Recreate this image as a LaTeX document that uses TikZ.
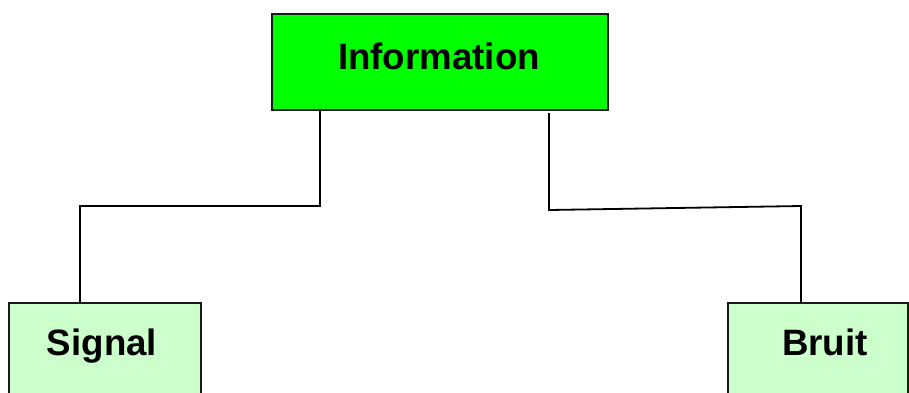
\documentclass[tikz,border=0pt]{standalone}
\usepackage{fontspec}
\setmainfont{Liberation Sans}
\definecolor{topgreen}{HTML}{00FF00}
\definecolor{leafgreen}{HTML}{CCFFCC}
\definecolor{edge}{HTML}{1A1A1A}
\tikzset{
  box/.style={draw=edge, line width=1.8pt, rectangle, inner sep=0pt},
  lbl/.style={anchor=base, font=\fontsize{36.7}{40}\selectfont\bfseries, inner sep=0pt},
  link/.style={draw=black, line width=1.8pt, line join=miter}
}
\begin{document}
\begin{tikzpicture}[x=1pt,y=-1pt]
\useasboundingbox (0,0) rectangle (909,392);
\clip (0,0) rectangle (909,392);
\node[box, fill=topgreen, minimum width=336.5pt, minimum height=96pt] (info) at (440,62) {};
\node[box, fill=leafgreen, minimum width=192pt, minimum height=120pt] (signal) at (105,363) {};
\node[box, fill=leafgreen, minimum width=180pt, minimum height=120pt] (bruit) at (818,363) {};
\node[lbl] (tinfo) at (439,69) {Information};
\node[lbl] (tsignal) at (102,355) {Signal};
\node[lbl] (tbruit) at (825,355) {Bruit};
\coordinate (a1) at (320,110);
\coordinate (a2) at (320,206);
\coordinate (a3) at (80,206);
\coordinate (b1) at (549,113);
\coordinate (b2) at (549,210);
\coordinate (b3) at (801,206);
\draw[link] (a1) -- (a2) -- (a3) -- (a3 |- signal.north);
\draw[link] (b1) -- (b2) -- (b3) -- (b3 |- bruit.north);
\end{tikzpicture}
\end{document}
